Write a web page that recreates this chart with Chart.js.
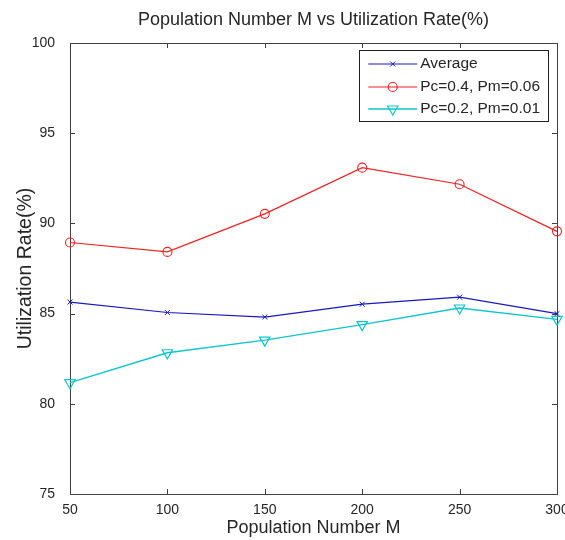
<!DOCTYPE html>
<html>
<head>
<meta charset="utf-8">
<script src="https://cdn.jsdelivr.net/npm/chart.js@4.4.1/dist/chart.umd.min.js"></script>
<style>
    html, body { margin: 0; padding: 0; background: #fff; }
    #wrap { width: 565px; height: 540px; }
</style>
</head>
<body>
<div id="wrap"><canvas id="chartCanvas" width="565" height="540"></canvas></div>
<script>
// values
const populationM = [50, 100, 150, 200, 250, 300];
const averageRate = [85.64, 85.06, 84.81, 85.52, 85.91, 85.0];
const pc04Pm006Rate = [88.94, 88.42, 90.53, 93.09, 92.17, 89.56];
const pc02Pm001Rate = [81.17, 82.83, 83.53, 84.39, 85.31, 84.68];
const xTicks = [50, 100, 150, 200, 250, 300];
const yTicks = [75, 80, 85, 90, 95, 100];

const FONT = '"Liberation Sans", Arial, sans-serif';
const TEXT = '#262626';
const AXIS = '#404040';

const toPoints = (ys) => populationM.map((x, i) => ({x: x, y: ys[i]}));

// box round the plot with inward ticks on all four sides
const matlabFrame = {
    id: 'matlabFrame',
    beforeDatasetsDraw(chart) {
        const {ctx, chartArea: a, scales} = chart;
        const len = 5;
        ctx.save();
        ctx.strokeStyle = AXIS;
        ctx.lineWidth = 1;
        ctx.beginPath();
        xTicks.forEach(v => {
            const px = Math.round(scales.x.getPixelForValue(v)) + 0.5;
            ctx.moveTo(px, a.bottom); ctx.lineTo(px, a.bottom - len);
            ctx.moveTo(px, a.top); ctx.lineTo(px, a.top + len);
        });
        yTicks.forEach(v => {
            const py = Math.round(scales.y.getPixelForValue(v)) + 0.5;
            ctx.moveTo(a.left, py); ctx.lineTo(a.left + len, py);
            ctx.moveTo(a.right, py); ctx.lineTo(a.right - len, py);
        });
        ctx.stroke();
        ctx.strokeRect(Math.round(a.left) + 0.5, Math.round(a.top) + 0.5,
            Math.round(a.right - a.left), Math.round(a.bottom - a.top));
        ctx.restore();
    }
};

// legend box inside the top right corner of the plot
const boxLegend = {
    id: 'boxLegend',
    afterDatasetsDraw(chart) {
        const {ctx, chartArea: a} = chart;
        const sets = chart.data.datasets;
        ctx.save();
        ctx.font = '15.5px ' + FONT;
        const textW = Math.max(...sets.map(d => ctx.measureText(d.label).width));
        const sampleW = 49, padL = 9, gap = 3, padR = 8, rowH = 23;
        const w = padL + sampleW + gap + textW + padR;
        const h = 71;
        const right = a.right - 9, top = a.top + 7;
        const left = right - w;
        ctx.fillStyle = '#fff';
        ctx.fillRect(left, top, w, h);
        ctx.strokeStyle = '#202020';
        ctx.lineWidth = 1;
        ctx.strokeRect(Math.round(left) + 0.5, Math.round(top) + 0.5, Math.round(w), h);
        sets.forEach((d, i) => {
            const y = top + 14 + i * rowH - (i === 2 ? 1 : 0);
            ctx.strokeStyle = d.borderColor;
            ctx.lineWidth = d.borderWidth;
            ctx.beginPath();
            ctx.moveTo(left + padL, y);
            ctx.lineTo(left + padL + sampleW, y);
            ctx.stroke();
            ctx.fillStyle = 'rgba(0,0,0,0)';
            ctx.lineWidth = d.pointBorderWidth;
            Chart.helpers.drawPoint(ctx, {
                pointStyle: d.pointStyle,
                rotation: d.pointRotation || 0,
                radius: d.pointRadius,
                borderWidth: d.pointBorderWidth
            }, left + padL + sampleW / 2, y);
            ctx.fillStyle = TEXT;
            ctx.textBaseline = 'middle';
            ctx.textAlign = 'left';
            ctx.fillText(d.label, left + padL + sampleW + gap, y);
        });
        ctx.restore();
    }
};

new Chart(document.getElementById('chartCanvas').getContext('2d'), {
    type: 'line',
    data: {
        datasets: [{
            label: 'Average',
            data: toPoints(averageRate),
            borderColor: '#1818c0',
            borderWidth: 1.2,
            pointStyle: 'crossRot',
            pointRadius: 3.5,
            pointBorderWidth: 1,
            pointBackgroundColor: 'rgba(0,0,0,0)',
            clip: false
        }, {
            label: 'Pc=0.4, Pm=0.06',
            data: toPoints(pc04Pm006Rate),
            borderColor: '#ee2222',
            borderWidth: 1.2,
            pointStyle: 'circle',
            pointRadius: 4.5,
            pointBorderWidth: 1.1,
            pointBackgroundColor: 'rgba(0,0,0,0)',
            clip: false
        }, {
            label: 'Pc=0.2, Pm=0.01',
            data: toPoints(pc02Pm001Rate),
            borderColor: '#10c4cc',
            borderWidth: 1.4,
            pointStyle: 'triangle',
            pointRotation: 180,
            pointRadius: 6,
            pointBorderWidth: 1.2,
            pointBackgroundColor: 'rgba(0,0,0,0)',
            clip: false
        }]
    },
    options: {
        responsive: false,
        animation: false,
        layout: {padding: {top: 0, right: 8, bottom: 0, left: 0}},
        plugins: {
            legend: {display: false},
            tooltip: {enabled: false},
            title: {
                display: true,
                text: 'Population Number M vs Utilization Rate(%)',
                fullSize: false,
                color: TEXT,
                font: {family: FONT, size: 18, weight: 'normal', lineHeight: 1.2},
                padding: {top: 9, bottom: 12.4}
            }
        },
        elements: {line: {tension: 0}},
        scales: {
            x: {
                type: 'linear',
                min: 50,
                max: 300,
                afterBuildTicks: s => { s.ticks = xTicks.map(v => ({value: v})); },
                afterFit: s => { s.height = 46; s.paddingLeft = 0; s.paddingRight = 0; },
                grid: {display: false},
                border: {display: false},
                ticks: {
                    padding: 0, color: TEXT, maxRotation: 0, autoSkip: false,
                    font: {family: FONT, size: 14}
                },
                title: {
                    display: true,
                    text: 'Population Number M',
                    color: TEXT,
                    font: {family: FONT, size: 18, lineHeight: 1.2},
                    padding: {top: 0, bottom: 1}
                }
            },
            y: {
                min: 75,
                max: 100,
                afterBuildTicks: s => { s.ticks = yTicks.map(v => ({value: v})); },
                afterFit: s => { s.width = 70; s.paddingTop = 0; s.paddingBottom = 0; },
                grid: {display: false},
                border: {display: false},
                ticks: {
                    padding: 7, color: TEXT, autoSkip: false,
                    font: {family: FONT, size: 14}
                },
                title: {
                    display: true,
                    text: 'Utilization Rate(%)',
                    color: TEXT,
                    font: {family: FONT, size: 19.5, lineHeight: 1.2},
                    padding: {top: 14, bottom: 0}
                }
            }
        }
    },
    plugins: [matlabFrame, boxLegend]
});
</script>
</body>
</html>
